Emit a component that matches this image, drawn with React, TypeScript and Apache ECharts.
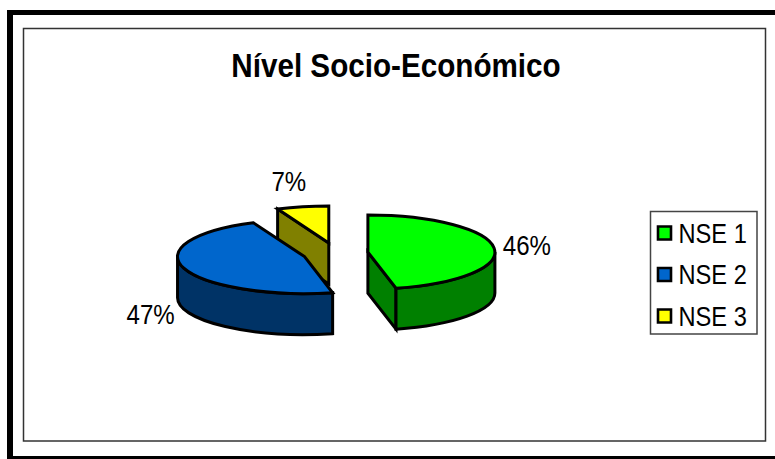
import React, { useEffect, useRef } from "react";
import * as echarts from "echarts";

const title = "Nível Socio-Económico";
const categories = ["NSE 1", "NSE 2", "NSE 3"];
const shares = [46.45, 46.95, 6.6];
const topColors = ["#00FF00", "#0066CC", "#FFFF00"];
const sideColors = ["#008000", "#003366", "#808000"];
const drawOrder = [3, 2, 1];

const FONT = '"Liberation Sans", Arial, sans-serif';
const CX = 335.5;
const CY = 253.3;
const RX = 127;
const RY = 37;
const DEPTH = 41;
const EXPLODE_X = 32.6;
const EXPLODE_Y = 10.6;
const LABEL_RX = 160;
const LABEL_RY = 62;
const OUTLINE = 3;
const labelNudge = [[0, 0], [-2, -3], [-7, -1]];

const total = shares.reduce((a, b) => a + b, 0);
const rad = (d: number) => (d * Math.PI) / 180;

function sliceAngles(i: number) {
  const before = shares.slice(0, i).reduce((a, b) => a + b, 0);
  return { a: (before / total) * 360, b: ((before + shares[i]) / total) * 360 };
}

function renderSlice(i: number) {
  const { a, b } = sliceAngles(i);
  const mid = (a + b) / 2;
  const cx = CX + EXPLODE_X * Math.sin(rad(mid));
  const cy = CY - EXPLODE_Y * Math.cos(rad(mid));
  const pt = (t: number, dy = 0) => [cx + RX * Math.sin(rad(t)), cy - RY * Math.cos(rad(t)) + dy];
  const s = (p: number[]) => `${p[0].toFixed(2)} ${p[1].toFixed(2)}`;
  const children: any[] = [];
  const add = (d: string, fill: string) =>
    children.push({
      type: "path",
      shape: { pathData: d },
      style: { fill, stroke: "#000", lineWidth: OUTLINE, lineJoin: "miter" },
    });
  const cutFace = (t: number) =>
    add(`M${cx} ${cy}L${s(pt(t))}L${s(pt(t, DEPTH))}L${cx} ${cy + DEPTH}Z`, sideColors[i]);

  if (a > 180 && a < 360) cutFace(a);
  if (b > 0 && b < 180) cutFace(b);
  const w0 = Math.max(a, 90);
  const w1 = Math.min(b, 270);
  if (w1 > w0) {
    add(
      `M${s(pt(w0))}A${RX} ${RY} 0 0 1 ${s(pt(w1))}L${s(pt(w1, DEPTH))}A${RX} ${RY} 0 0 0 ${s(pt(w0, DEPTH))}Z`,
      sideColors[i]
    );
  }
  add(
    `M${cx} ${cy}L${s(pt(a))}A${RX} ${RY} 0 ${b - a > 180 ? 1 : 0} 1 ${s(pt(b))}Z`,
    topColors[i]
  );
  const cosM = Math.cos(rad(mid));
  children.push({
    type: "text",
    x: cx + LABEL_RX * Math.sin(rad(mid)) + labelNudge[i][0],
    y: cy - LABEL_RY * cosM + (cosM < 0 ? DEPTH : 0) + labelNudge[i][1],
    scaleX: 0.86,
    style: {
      text: `${Math.round((shares[i] / total) * 100)}%`,
      fill: "#000",
      fontSize: 28,
      fontFamily: FONT,
      align: "center",
      verticalAlign: "middle",
    },
  });
  return { type: "group", children };
}

const LEGEND_ROW_Y = 233;
const LEGEND_ROW_STEP = 41.5;

const legendGraphics = categories.flatMap((name, i) => {
  const y = LEGEND_ROW_Y + i * LEGEND_ROW_STEP;
  return [
    {
      type: "rect",
      silent: true,
      shape: { x: 658, y: y - 6.5, width: 13, height: 13 },
      style: { fill: topColors[i], stroke: "#000", lineWidth: 2.6 },
    },
    {
      type: "text",
      silent: true,
      x: 678.5,
      y,
      scaleX: 0.86,
      style: {
        text: name,
        fill: "#000",
        fontSize: 27.5,
        fontFamily: FONT,
        align: "left",
        verticalAlign: "middle",
      },
    },
  ];
});

export default function App() {
  const ref = useRef<HTMLDivElement>(null);
  useEffect(() => {
    const chart = echarts.init(ref.current!, null, { renderer: "svg" });
    chart.setOption({
      animation: false,
      backgroundColor: "#fff",
      graphic: [
        { type: "rect", silent: true, z: -1, shape: { x: 7, y: 10, width: 768, height: 5 }, style: { fill: "#000" } },
        { type: "rect", silent: true, z: -1, shape: { x: 7, y: 10, width: 6, height: 449 }, style: { fill: "#000" } },
        { type: "rect", silent: true, z: -1, shape: { x: 7, y: 456, width: 768, height: 3 }, style: { fill: "#000" } },
        {
          type: "rect",
          silent: true,
          z: -1,
          shape: { x: 23.5, y: 28.5, width: 742, height: 412.5 },
          style: { fill: "#fff", stroke: "#333", lineWidth: 1.5 },
        },
        {
          type: "text",
          silent: true,
          x: 396,
          y: 65,
          scaleX: 0.885,
          style: {
            text: title,
            fill: "#000",
            fontSize: 33.5,
            fontWeight: "bold",
            fontFamily: FONT,
            align: "center",
            verticalAlign: "middle",
          },
        },
        {
          type: "rect",
          silent: true,
          shape: { x: 650.5, y: 211.5, width: 106.5, height: 122.5 },
          style: { fill: "#fff", stroke: "#444", lineWidth: 1.5 },
        },
        ...legendGraphics,
      ],
      series: categories.map((name, i) => ({
        type: "custom",
        name,
        coordinateSystem: "none",
        z: drawOrder[i],
        silent: true,
        data: [shares[i]],
        renderItem: () => renderSlice(i),
      })),
    });
    return () => chart.dispose();
  }, []);
  return <div ref={ref} style={{ position: "fixed", left: 0, top: 0, width: 775, height: 459 }} />;
}
